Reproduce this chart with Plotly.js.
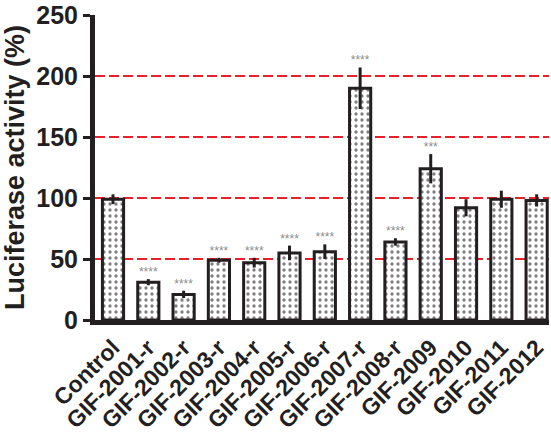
<!DOCTYPE html>
<html>
<head>
<meta charset="utf-8">
<script src="https://cdn.plot.ly/plotly-3.0.1.min.js"></script>
<style>
  html, body { margin: 0; padding: 0; background: #fff; }
  #chart { width: 551px; height: 435px; }
</style>
</head>
<body>
<div id="chart"></div>
<script>
// Luciferase reporter activity per construct, relative to control (%)
const constructs = ['Control', 'GIF-2001-r', 'GIF-2002-r', 'GIF-2003-r', 'GIF-2004-r',
  'GIF-2005-r', 'GIF-2006-r', 'GIF-2007-r', 'GIF-2008-r', 'GIF-2009',
  'GIF-2010', 'GIF-2011', 'GIF-2012'];
const activity = [99, 31, 21, 49, 47, 55, 56, 190, 64, 124, 92, 99, 98];
const sem = [4, 2.5, 3, 2, 4, 6, 6, 17, 3, 12, 7, 7, 5];
const significance = ['', '****', '****', '****', '****', '****', '****', '****', '****', '***', '', '', ''];
const yTicks = [0, 50, 100, 150, 200, 250];

const ink = '#231f20';
const font = 'Liberation Sans, Arial, Helvetica, sans-serif';

const bars = {
  type: 'bar',
  x: constructs,
  y: activity,
  width: 0.6,
  marker: {
    color: '#ffffff',
    line: { color: ink, width: 3 },
    pattern: { shape: '.', fgcolor: '#000000', bgcolor: '#ffffff', size: 6, solidity: 0.24, fillmode: 'overlay' }
  },
  error_y: { type: 'data', array: sem, visible: true, color: ink, thickness: 3, width: 0 },
  hoverinfo: 'x+y'
};

// asterisks sit just above the top of each error bar
const stars = {
  type: 'scatter',
  mode: 'text',
  x: constructs,
  y: activity.map((v, i) => v + sem[i]),
  text: significance,
  textposition: 'top center',
  textfont: { family: font, size: 12, color: '#8c8c8c' },
  hoverinfo: 'skip'
};

const layout = {
  width: 551,
  height: 435,
  margin: { l: 95, r: 2, t: 15, b: 115 },
  paper_bgcolor: '#ffffff',
  plot_bgcolor: '#ffffff',
  showlegend: false,
  xaxis: {
    range: [-0.51, 12.35],
    showline: true,
    linecolor: ink,
    linewidth: 5,
    ticks: '',
    tickangle: -45,
    tickfont: { family: font, size: 23, color: ink, weight: 'bold' },
    showgrid: false,
    zeroline: false,
    fixedrange: true
  },
  yaxis: {
    range: [0, 250],
    tickvals: yTicks,
    ticktext: yTicks.map(String),
    showline: true,
    linecolor: ink,
    linewidth: 5,
    ticks: 'outside',
    ticklen: 7,
    tickwidth: 3,
    tickcolor: ink,
    tickfont: { family: font, size: 25, color: ink, weight: 'bold' },
    showgrid: true,
    gridcolor: '#e8202a',
    gridwidth: 1.3,
    griddash: '10px,4px',
    zeroline: false,
    title: {
      text: 'Luciferase activity (%)',
      font: { family: font, size: 27, color: ink, weight: 'bold' },
      standoff: 5
    },
    fixedrange: true
  }
};

Plotly.newPlot('chart', [bars, stars], layout, { displayModeBar: false, staticPlot: true });
</script>
</body>
</html>
